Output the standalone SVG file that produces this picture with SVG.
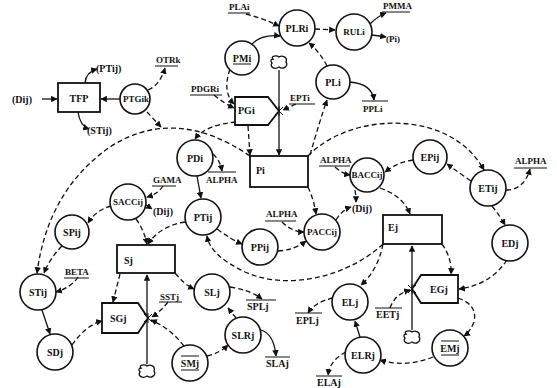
<svg xmlns="http://www.w3.org/2000/svg" width="557" height="388" viewBox="0 0 557 388">
<defs>
<marker id="ah" viewBox="0 0 10 10" refX="9" refY="5" markerWidth="5" markerHeight="5" orient="auto-start-reverse">
<path d="M0,0 L10,5 L0,10 z" fill="#111"/>
</marker>
<symbol id="cloud" viewBox="-10 -8 20 16" overflow="visible">
<path d="M-6,-4 C-9,-7 -2,-8 0,-6 C3,-8 9,-6 7,-1 C10,3 4,7 0,4 C-4,7 -10,4 -7,0 C-9,-2 -8,-4 -6,-4 z" fill="none" stroke="#111" stroke-width="1.3"/>
</symbol>
</defs>
<style>
.n circle{fill:#fff;stroke:#111;stroke-width:1.6}
.box{fill:#fff;stroke:#111;stroke-width:1.8}
text{font-family:"Liberation Serif","DejaVu Serif",serif;font-weight:bold;font-size:10px;fill:#111}
.c{text-anchor:middle}
.s{font-size:9px}
.d{fill:none;stroke:#111;stroke-width:1.3;stroke-dasharray:5,3;marker-end:url(#ah)}
.l{fill:none;stroke:#111;stroke-width:1.3;marker-end:url(#ah)}
.ul{stroke:#111;stroke-width:1}
</style>
<rect width="557" height="388" fill="#fff"/>

<g id="connectors">
<!-- big arcs -->
<path class="d" d="M250,156 Q175,105 110,147 Q48,190 37,273"/>
<path class="d" d="M308,156 C350,112 450,108 484,170"/>
<path class="d" d="M383,244 C350,275 290,292 245,272 C225,262 210,252 207,236"/>
<path class="d" d="M147,112 L161,127"/>
<!-- top -->
<path class="d" d="M246,14 Q262,18 279,26"/>
<path class="d" d="M315,29 L335,30"/>
<path class="l" d="M252,44 Q262,34 280,36"/>
<path class="d" d="M327,66 Q320,52 309,43"/>
<path class="d" d="M230,69 Q222,92 234,104"/>
<path class="d" d="M214,95 Q225,104 234,108"/>
<path class="d" d="M296,104 L283,110"/>
<path class="l" d="M350,82 Q372,84 374,100"/>
<path class="l" d="M370,24 Q378,16 386,13"/>
<path class="l" d="M372,35 L386,37"/>
<path class="d" d="M248,126 L250,155"/>
<path class="d" d="M236,122 Q205,125 195,139"/>
<path class="d" d="M310,155 Q320,120 327,100"/>
<!-- PDi / PTij / SACCij -->
<path class="d" d="M213,154 Q220,160 222,171"/>
<path class="l" d="M197,176 L201,198"/>
<path class="d" d="M185,222 Q160,226 148,244"/>
<path class="d" d="M136,219 Q144,230 147,244"/>
<path class="d" d="M163,186 Q158,194 147,197"/>
<path class="d" d="M146,205 L152,209"/>
<path class="d" d="M111,206 Q96,210 88,223"/>
<path class="d" d="M62,246 Q50,258 44,273"/>
<path class="d" d="M78,277 Q72,287 56,292"/>
<path class="l" d="M42,310 L50,334"/>
<path class="d" d="M72,345 Q86,325 102,321"/>
<path class="d" d="M120,274 L113,302"/>
<path class="d" d="M175,273 Q185,285 194,289"/>
<path class="d" d="M230,287 Q250,290 262,299"/>
<path class="l" d="M261,330 Q274,334 276,356"/>
<path class="d" d="M236,318 L228,308"/>
<path class="d" d="M207,356 Q220,353 228,345"/>
<path class="d" d="M184,346 Q170,328 151,320"/>
<path class="d" d="M168,302 Q160,312 152,317"/>
<!-- P flows -->
<path class="d" d="M217,229 Q232,240 242,244"/>
<path class="d" d="M278,251 Q295,250 306,241"/>
<path class="d" d="M308,187 Q314,200 316,214"/>
<path class="d" d="M282,222 Q292,232 304,232"/>
<path class="d" d="M336,220 Q342,210 351,207"/>
<path class="d" d="M355,190 Q356,196 356,202"/>
<path class="d" d="M335,167 Q343,174 350,175"/>
<path class="d" d="M380,188 Q403,196 410,214"/>
<path class="d" d="M413,160 Q398,162 385,172"/>
<path class="d" d="M471,181 Q458,172 447,164"/>
<path class="d" d="M506,190 Q524,190 530,169"/>
<path class="d" d="M492,206 Q500,216 505,225"/>
<path class="d" d="M507,260 Q490,285 459,289"/>
<path class="d" d="M442,244 Q452,258 451,274"/>
<path class="d" d="M458,298 Q478,305 474,322 Q470,332 464,336"/>
<path class="d" d="M433,357 Q405,368 380,360"/>
<path class="l" d="M360,337 L355,321"/>
<path class="d" d="M383,244 Q378,270 361,285"/>
<path class="d" d="M333,298 Q315,302 308,313"/>
<path class="d" d="M346,352 Q330,360 328,375"/>
<path class="d" d="M390,308 Q395,294 410,290"/>
<!-- TFP -->
<path class="l" d="M42,99 L57,99"/>
<path class="l" d="M120,99 L101,99"/>
<path class="l" d="M85,83 Q86,72 97,69"/>
<path class="l" d="M78,112 Q80,126 89,129"/>
<path class="d" d="M148,90 Q160,85 165,68"/>
<!-- flows -->
<path class="l" d="M279,70 L279,155"/>
<path class="l" d="M147,364 L147,275"/>
<path class="l" d="M412,330 L412,246"/>
</g>

<g id="TFP"><rect class="box" x="58" y="83" width="42" height="29"/><text class="c" x="79" y="102">TFP</text></g>
<g id="Pi"><rect class="box" x="250" y="156" width="58" height="31"/><text x="256" y="174" font-size="11">Pi</text></g>
<g id="Sj"><rect class="box" x="117" y="245" width="58" height="28"/><text x="124" y="264" font-size="11">Sj</text></g>
<g id="Ej"><rect class="box" x="383" y="215" width="59" height="29"/><text x="388" y="231" font-size="11">Ej</text></g>

<g id="PGi"><polygon class="box" points="235,97 268,97 279,111 268,125 235,125"/><text x="238" y="114">PGi</text></g>
<g id="SGj"><polygon class="box" points="102,303 138,303 148,318 138,333 102,333"/><text x="110" y="322">SGj</text></g>
<g id="EGj"><polygon class="box" points="421,275 458,275 458,303 421,303 412,289"/><text x="430" y="293">EGj</text></g>

<g id="valves" fill="#111" stroke="#111" stroke-width="1">
<path d="M275,107 L283,115 M283,107 L275,115 M279,106 L279,116"/>
<path d="M144,314 L152,322 M152,314 L144,322 M148,313 L148,323"/>
<path d="M408,285 L416,293 M416,285 L408,293 M412,284 L412,294"/>
</g>
<g id="clouds">
<use href="#cloud" x="269" y="55" width="20" height="16"/>
<use href="#cloud" x="137" y="364" width="20" height="16"/>
<use href="#cloud" x="402" y="330" width="20" height="16"/>
</g>

<g class="n">
<g id="PTGik"><circle cx="135" cy="99" r="15"/><text class="c s" x="136" y="102">PTGik</text></g>
<g id="PLRi"><circle cx="297" cy="28" r="18"/><text class="c" x="297" y="32">PLRi</text></g>
<g id="RULi"><circle cx="354" cy="32" r="18"/><text class="c s" x="354" y="35">RULi</text></g>
<g id="PMi"><circle cx="242" cy="58" r="17"/><text class="c" x="242" y="62">PMi</text><line class="ul" x1="233" y1="64" x2="251" y2="64"/></g>
<g id="PLi"><circle cx="333" cy="82" r="17"/><text class="c" x="333" y="86">PLi</text></g>
<g id="PDi"><circle cx="195" cy="158" r="18"/><text class="c" x="195" y="162">PDi</text></g>
<g id="PTij"><circle cx="203" cy="217" r="18"/><text class="c" x="203" y="221">PTij</text></g>
<g id="SACCij"><circle cx="128" cy="202" r="18"/><text class="c s" x="128" y="205">SACCij</text></g>
<g id="SPij"><circle cx="72" cy="232" r="17"/><text class="c" x="72" y="236">SPij</text></g>
<g id="STij"><circle cx="38" cy="292" r="18"/><text class="c" x="38" y="296">STij</text></g>
<g id="SDj"><circle cx="55" cy="352" r="18"/><text class="c" x="55" y="356">SDj</text></g>
<g id="SLj"><circle cx="212" cy="292" r="18"/><text class="c" x="212" y="296">SLj</text></g>
<g id="SLRj"><circle cx="243" cy="335" r="18"/><text class="c" x="243" y="339">SLRj</text></g>
<g id="SMj"><circle cx="190" cy="363" r="18"/><text class="c" x="190" y="367">SMj</text><line class="ul" x1="181" y1="356" x2="199" y2="356"/><line class="ul" x1="181" y1="370" x2="199" y2="370"/></g>
<g id="PPij"><circle cx="260" cy="247" r="18"/><text class="c" x="260" y="251">PPij</text></g>
<g id="PACCij"><circle cx="322" cy="232" r="18"/><text class="c s" x="322" y="235">PACCij</text></g>
<g id="BACCij"><circle cx="367" cy="175" r="17"/><text class="c s" x="367" y="178">BACCij</text></g>
<g id="EPij"><circle cx="430" cy="157" r="17"/><text class="c" x="430" y="161">EPij</text></g>
<g id="ETij"><circle cx="488" cy="188" r="18"/><text class="c" x="488" y="192">ETij</text></g>
<g id="EDj"><circle cx="510" cy="243" r="18"/><text class="c" x="510" y="247">EDj</text></g>
<g id="ELj"><circle cx="350" cy="302" r="18"/><text class="c" x="350" y="306">ELj</text></g>
<g id="ELRj"><circle cx="363" cy="355" r="18"/><text class="c" x="363" y="359">ELRj</text></g>
<g id="EMj"><circle cx="450" cy="348" r="18"/><text class="c" x="450" y="352">EMj</text><line class="ul" x1="441" y1="341" x2="459" y2="341"/><line class="ul" x1="441" y1="355" x2="459" y2="355"/></g>
</g>

<g id="labels">
<text x="12" y="103">(Dij)</text>
<text x="96" y="72">(PTij)</text>
<text x="87" y="134">(STij)</text>
<text x="156" y="63" class="s">OTRk</text><line class="ul" x1="155" y1="66" x2="178" y2="66"/>
<text x="229" y="10" class="s">PLAi</text><line class="ul" x1="228" y1="13" x2="250" y2="13"/>
<text x="383" y="9" class="s">PMMA</text><line class="ul" x1="382" y1="12" x2="410" y2="12"/>
<text x="386" y="42" class="s">(Pi)</text>
<text x="191" y="92" class="s">PDGRi</text><line class="ul" x1="190" y1="95" x2="222" y2="95"/>
<text x="290" y="101" class="s">EPTi</text><line class="ul" x1="289" y1="104" x2="315" y2="104"/>
<text x="363" y="112" class="s">PPLi</text><line class="ul" x1="362" y1="101" x2="388" y2="101"/>
<text x="206" y="183" class="s">ALPHA</text><line class="ul" x1="208" y1="172" x2="236" y2="172"/>
<text x="153" y="183" class="s">GAMA</text><line class="ul" x1="152" y1="186" x2="176" y2="186"/>
<text x="153" y="215">(Dij)</text>
<text x="65" y="275" class="s">BETA</text><line class="ul" x1="64" y1="278" x2="89" y2="278"/>
<text x="160" y="300" class="s">SSTj</text><line class="ul" x1="159" y1="302" x2="182" y2="302"/>
<text x="247" y="310">SPLj</text><line class="ul" x1="246" y1="300" x2="276" y2="300"/>
<text x="266" y="367">SLAj</text><line class="ul" x1="265" y1="357" x2="290" y2="357"/>
<text x="266" y="217" class="s">ALPHA</text><line class="ul" x1="265" y1="221" x2="296" y2="221"/>
<text x="352" y="212">(Dij)</text>
<text x="320" y="163" class="s">ALPHA</text><line class="ul" x1="319" y1="166" x2="350" y2="166"/>
<text x="515" y="164" class="s">ALPHA</text><line class="ul" x1="514" y1="168" x2="547" y2="168"/>
<text x="296" y="324">EPLj</text><line class="ul" x1="295" y1="313" x2="322" y2="313"/>
<text x="317" y="386">ELAj</text><line class="ul" x1="316" y1="376" x2="342" y2="376"/>
<text x="376" y="318">EETj</text><line class="ul" x1="375" y1="308" x2="402" y2="308"/>
</g>
</svg>
